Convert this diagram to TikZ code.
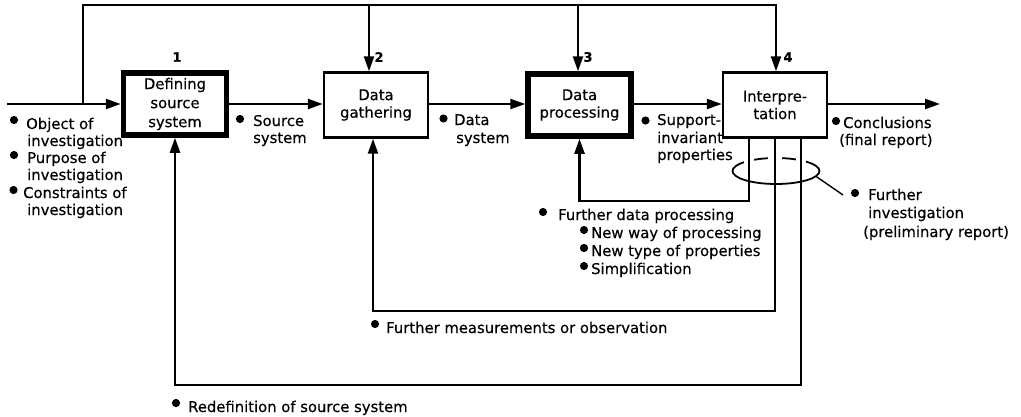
\documentclass[tikz,border=0pt]{standalone}
\usepackage{fontspec}
\setmainfont{DejaVu Sans}[FakeBold=0.4]
\usetikzlibrary{arrows.meta,calc,shapes.geometric}
\newcommand\lblfont{\fontsize{14.8}{19}\selectfont}
\newcommand\boxfont{\fontsize{14.8}{19}\selectfont}
\newcommand\boxfonttwo{\fontsize{14.8}{17.5}\selectfont}
\begin{document}
\begin{tikzpicture}[x=1pt,y=-1pt,line width=2.4pt,
  arr/.style={-{Triangle[length=15pt,width=10pt]}},
  thinbox/.style={draw,line width=2.4pt,minimum width=104pt,minimum height=65pt,inner sep=0pt,align=center,font=\boxfonttwo},
  thickbox/.style={draw,line width=5.5pt,minimum width=103pt,minimum height=62pt,inner sep=0pt,align=center},
  num/.style={font=\fontsize{13}{13}\selectfont\bfseries,inner sep=0pt},
  txt/.style={anchor=base west,inner sep=0pt,font=\lblfont},
  bul/.style={fill=black}]
\useasboundingbox (0,0) rectangle (1021,416);

% boxes
\node[thickbox,font=\boxfont] (b1) at (175,104) {Defining\\source\\system};
\node[thinbox]  (b2) at (376,105) {Data\\gathering};
\node[thickbox,font=\boxfonttwo] (b3) at (579.5,105) {Data\\processing};
\node[thinbox]  (b4) at (775,105) {Interpre-\\tation};

\node[num] (n1) at (177,57) {1};
\node[num] (n2) at (379,57) {2};
\node[num] (n3) at (588,57) {3};
\node[num] (n4) at (788,57) {4};

% coordinates
\coordinate (in) at (7,104);
\coordinate (j) at (83,104);
\coordinate (t1) at (83,5);
\coordinate (t2) at (369,5);
\coordinate (t3) at (578,5);
\coordinate (t4) at (776,5);
\coordinate (out) at (940,104);
\coordinate (v1) at (749,137);
\coordinate (v3) at (801,137);
\coordinate (h1) at (579.5,201);
\coordinate (h2) at (373,311);
\coordinate (h3) at (175,385);
\coordinate (fc) at (843,195);

% main flow
\draw[arr] (in) -- (in -| b1.west);
\draw[arr] (j) -- (t1) -- (t4) -- (t4 |- b4.north);
\draw[arr] (t2) -- (t2 |- b2.north);
\draw[arr] (t3) -- (t3 |- b3.north);
\draw[arr] (in -| b1.east) -- (in -| b2.west);
\draw[arr] (in -| b2.east) -- (in -| b3.west);
\draw[arr] (in -| b3.east) -- (in -| b4.west);
\draw[arr] (in -| b4.east) -- (out);

% ellipse (behind the feedback lines)
\node[ellipse,draw,line width=1.8pt,minimum width=87pt,minimum height=26pt,inner sep=0pt] (el) at (776,171) {};
\fill[white] (744,150) rectangle (754,166);
\fill[white] (768,150) rectangle (782,166);
\fill[white] (796,150) rectangle (806,166);
\draw[line width=1.4pt] (el.-8) -- (fc);

% feedback
\draw[arr] (v1) |- (h1) -- (b3.south);
\draw[arr] (b4.south) |- (h2) -- (h2 |- b2.south);
\draw[arr] (v3) |- (h3) -- (b1.south);

% labels
\fill[bul] (14,120) circle (4.1pt);
\node[txt] (l1a) at (25,129) {Object of};
\node[txt] (l1b) at (26,146) {investigation};
\fill[bul] (14,155) circle (4.1pt);
\node[txt] (l2a) at (26,163) {Purpose of};
\node[txt] (l2b) at (26,180) {investigation};
\fill[bul] (13.5,190) circle (4.1pt);
\node[txt] (l3a) at (22,198) {Constraints of};
\node[txt] (l3b) at (26,215) {investigation};

\fill[bul] (240,119) circle (4.1pt);
\node[txt] (ss1) at (252,126) {Source};
\node[txt] (ss2) at (252,143) {system};

\fill[bul] (443.5,118.5) circle (4.1pt);
\node[txt] (ds1) at (453,125) {Data};
\node[txt] (ds2) at (455,143) {system};

\fill[bul] (645.5,120.5) circle (4.1pt);
\node[txt] (sp1) at (656,125) {Support-};
\node[txt] (sp2) at (656,143) {invariant};
\node[txt] (sp3) at (656,160) {properties};

\fill[bul] (836,121) circle (4.1pt);
\node[txt] (cc1) at (842,128) {Conclusions};
\node[txt] (cc2) at (838,145) {(final report)};

\fill[bul] (855,193) circle (4.1pt);
\node[txt] (fi1) at (867,200) {Further};
\node[txt] (fi2) at (867,218) {investigation};
\node[txt] (fi3) at (862,237) {(preliminary report)};

\fill[bul] (543,212) circle (4.1pt);
\node[txt] (fd0) at (557,220) {Further data processing};
\fill[bul] (584,230) circle (4.1pt);
\node[txt] (fd1) at (590,238) {New way of processing};
\fill[bul] (584,248) circle (4.1pt);
\node[txt] (fd2) at (590,256) {New type of properties};
\fill[bul] (584,266) circle (4.1pt);
\node[txt] (fd3) at (590,274) {Simplification};

\fill[bul] (375,324) circle (4.1pt);
\node[txt] (fm) at (385,333) {Further measurements or observation};

\fill[bul] (176,403) circle (4.1pt);
\node[txt] (rd) at (187,412) {Redefinition of source system};
\end{tikzpicture}
\end{document}
